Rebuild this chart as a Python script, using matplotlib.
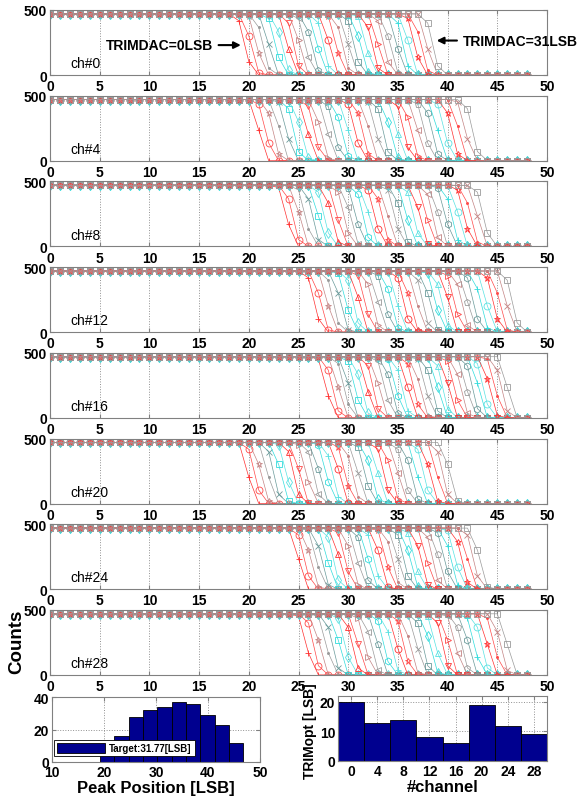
import numpy as np
import matplotlib
matplotlib.use("Agg")
import matplotlib.pyplot as plt

plt.rcParams['font.family'] = ['Liberation Sans', 'DejaVu Sans']

# ---------------- data ----------------
channels = ["ch#0", "ch#4", "ch#8", "ch#12", "ch#16", "ch#20", "ch#24", "ch#28"]
x_steps = list(range(0, 49))          # threshold scan points [LSB]
plateau_counts = 470

# 50% points of the S-curves for TRIMDAC = 0..31, per channel
peak_ch0 = [19.6, 20.2, 20.8, 21.4, 22.0, 22.7, 23.3, 23.9, 24.5, 25.1, 25.7, 26.3, 26.9, 27.5, 28.1, 28.8,
            29.4, 30.0, 30.6, 31.2, 31.8, 32.4, 33.0, 33.6, 34.2, 34.9, 35.5, 36.1, 36.7, 37.3, 37.9, 38.5]
peak_ch4 = [21.0, 21.7, 22.4, 23.1, 23.8, 24.5, 25.2, 25.9, 26.6, 27.2, 27.9, 28.6, 29.3, 30.0, 30.7, 31.4,
            32.1, 32.8, 33.5, 34.2, 34.9, 35.6, 36.3, 37.0, 37.7, 38.4, 39.0, 39.7, 40.4, 41.1, 41.8, 42.5]
peak_ch8 = [23.8, 24.4, 25.1, 25.7, 26.4, 27.0, 27.6, 28.3, 28.9, 29.6, 30.2, 30.8, 31.5, 32.1, 32.7, 33.4,
            34.0, 34.7, 35.3, 35.9, 36.6, 37.2, 37.9, 38.5, 39.1, 39.8, 40.4, 41.1, 41.7, 42.3, 43.0, 43.6]
peak_ch12 = [26.6, 27.2, 27.9, 28.5, 29.2, 29.8, 30.5, 31.1, 31.7, 32.4, 33.0, 33.7, 34.3, 34.9, 35.6, 36.2,
             36.9, 37.5, 38.2, 38.8, 39.4, 40.1, 40.7, 41.4, 42.0, 42.6, 43.3, 43.9, 44.6, 45.2, 45.9, 46.5]
peak_ch16 = [27.8, 28.4, 29.0, 29.6, 30.1, 30.7, 31.3, 31.9, 32.5, 33.1, 33.7, 34.3, 34.8, 35.4, 36.0, 36.6,
             37.2, 37.8, 38.4, 39.0, 39.5, 40.1, 40.7, 41.3, 41.9, 42.5, 43.1, 43.6, 44.2, 44.8, 45.4, 46.0]
peak_ch20 = [19.9, 20.6, 21.2, 21.9, 22.5, 23.2, 23.8, 24.5, 25.1, 25.8, 26.5, 27.1, 27.8, 28.4, 29.1, 29.7,
             30.4, 31.0, 31.7, 32.3, 33.0, 33.6, 34.3, 35.0, 35.6, 36.3, 36.9, 37.6, 38.2, 38.9, 39.5, 40.2]
peak_ch24 = [25.0, 25.6, 26.2, 26.8, 27.3, 27.9, 28.5, 29.1, 29.7, 30.3, 30.9, 31.5, 32.0, 32.6, 33.2, 33.8,
             34.4, 35.0, 35.6, 36.2, 36.7, 37.3, 37.9, 38.5, 39.1, 39.7, 40.3, 40.8, 41.4, 42.0, 42.6, 43.2]
peak_ch28 = [25.8, 26.5, 27.1, 27.8, 28.4, 29.1, 29.7, 30.4, 31.0, 31.7, 32.3, 33.0, 33.6, 34.3, 34.9, 35.6,
             36.2, 36.9, 37.5, 38.2, 38.8, 39.5, 40.1, 40.8, 41.4, 42.1, 42.7, 43.4, 44.0, 44.7, 45.3, 46.0]
peaks = [peak_ch0, peak_ch4, peak_ch8, peak_ch12, peak_ch16, peak_ch20, peak_ch24, peak_ch28]

# S-curve edge shape (offset from 50% point -> fraction of plateau)
edge_dx = [-0.9, -0.5, 0.0, 0.5, 0.9]
edge_frac = [1.0, 0.85, 0.5, 0.15, 0.0]

# histogram of peak positions
hist_edges = [19.2, 21.96, 24.72, 27.48, 30.24, 33.0, 35.76, 38.52, 41.28, 44.04, 46.8]
hist_counts = [9, 16, 28, 32, 34, 37, 36, 29, 23, 12]
target_label = "Target:31.77[LSB]"

# optimum trim per channel
trim_channels = [0, 4, 8, 12, 16, 20, 24, 28]
trim_opt = [20, 13, 14, 8, 6, 19, 12, 9]

# ---------------- style ----------------
curve_colors = ['#ff3030', '#ff4848', '#c48484', '#9a9a9a', '#6a9a9a', '#30dcdc', '#58e2e2']
markers = ['+', 'o', '*', '.', 'x', 's', 'd', '^', 'v', '>', '<', 'p', 'h']
frame_col = '#808080'
bar_col = '#00008f'

W, H = 577, 803
fig = plt.figure(figsize=(W / 100, H / 100), dpi=100)


def px_axes(l, t, r, b):
    return fig.add_axes([l / W, 1 - b / H, (r - l) / W, (b - t) / H])


def style_axes(ax):
    for s in ax.spines.values():
        s.set_color(frame_col)
        s.set_linewidth(0.8)
    ax.tick_params(direction='in', length=3, color=frame_col, labelsize=10, pad=2,
                   top=True, right=True)
    for lab in ax.get_xticklabels() + ax.get_yticklabels():
        lab.set_fontweight('bold')


x_arr = np.array(x_steps, dtype=float)
for i, (name, pk) in enumerate(zip(channels, peaks)):
    top = 11 + i * 85.7
    ax = px_axes(50, top, 547, top + 65)
    for k, t in enumerate(pk):
        y = plateau_counts * np.interp(x_arr - t, edge_dx, edge_frac)
        m = markers[k % len(markers)]
        c = curve_colors[k % len(curve_colors)]
        ax.plot(x_arr, y, color=c, lw=0.5,
                marker=m, markersize=5 if m != '.' else 3,
                markerfacecolor='none' if m not in ('.', '+', 'x') else c,
                markeredgewidth=0.6)
    ax.set_xlim(0, 50)
    ax.set_ylim(0, 500)
    ax.set_xticks(range(0, 51, 5))
    ax.set_yticks([0, 500])
    ax.grid(True, axis='x', linestyle=':', color='#909090', linewidth=0.7)
    style_axes(ax)
    ax.tick_params(axis='x', pad=3)
    ax.text(2.1, 60, name, fontsize=10)
    if i == 0:
        ax.annotate("TRIMDAC=0LSB", xy=(19.2, 230), xytext=(16.4, 230),
                    fontsize=10, fontweight='bold', ha='right', va='center',
                    arrowprops=dict(arrowstyle='-|>', color='black', lw=1.5,
                                    mutation_scale=10, shrinkA=2, shrinkB=0))
        ax.annotate("TRIMDAC=31LSB", xy=(38.9, 265), xytext=(41.5, 265),
                    fontsize=10, fontweight='bold', ha='left', va='center',
                    arrowprops=dict(arrowstyle='-|>', color='black', lw=1.5,
                                    mutation_scale=10, shrinkA=2, shrinkB=0),
                    annotation_clip=False)
    if i == len(channels) - 1:
        ax.set_ylabel("Counts", fontsize=13.5, fontweight='bold')
        ax.yaxis.set_label_coords(-0.05, 0.52)

# histogram of peak positions
ax1 = px_axes(52, 698, 260, 763)
ax1.hist(np.repeat([(a + b) / 2 for a, b in zip(hist_edges[:-1], hist_edges[1:])], hist_counts),
         bins=hist_edges, color=bar_col, edgecolor='black', linewidth=0.6,
         label=target_label, zorder=2)
ax1.set_xlim(10, 50)
ax1.set_ylim(0, 40)
ax1.set_xticks([10, 20, 30, 40, 50])
ax1.set_yticks([0, 20, 40])
ax1.grid(True, linestyle=':', color='#909090', linewidth=0.7, zorder=0)
ax1.set_axisbelow(True)
style_axes(ax1)
ax1.set_xlabel("Peak Position [LSB]", fontsize=12, fontweight='bold', labelpad=1)
leg = ax1.legend(loc='lower left', bbox_to_anchor=(0.0, 0.06),
                 prop={'weight': 'bold', 'size': 7}, handlelength=5.0, handleheight=1.2,
                 borderpad=0.3, handletextpad=0.4, borderaxespad=0.2, fancybox=False,
                 framealpha=1, edgecolor='black')
leg.get_frame().set_linewidth(0.6)

# optimum trim bar chart
ax2 = px_axes(338, 697, 547, 762)
ax2.bar(trim_channels, trim_opt, width=4, color=bar_col, edgecolor='black',
        linewidth=0.6, zorder=2)
ax2.set_xlim(-2, 30)
ax2.set_ylim(0, 22)
ax2.set_xticks(trim_channels)
ax2.set_yticks([0, 10, 20])
ax2.grid(True, linestyle=':', color='#909090', linewidth=0.7, zorder=0)
ax2.set_axisbelow(True)
style_axes(ax2)
ax2.set_xlabel("#channel", fontsize=12, fontweight='bold', labelpad=1)
ax2.set_ylabel("TRIMopt [LSB]", fontsize=10, fontweight='bold')
ax2.yaxis.set_label_coords(-0.10, 0.48)

fig.savefig("out.png", dpi=100)
